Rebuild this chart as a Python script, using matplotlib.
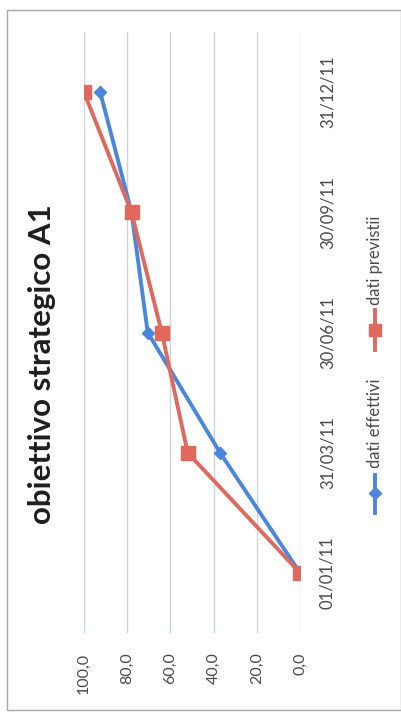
import matplotlib
matplotlib.use("Agg")
import matplotlib.pyplot as plt
from matplotlib.lines import Line2D
from matplotlib.patches import Rectangle
import numpy as np

plt.rcParams["font.family"] = ["Lato", "DejaVu Sans"]

dates = ["01/01/11", "31/03/11", "30/06/11", "30/09/11", "31/12/11"]
effettivi = [0.0, 37.0, 70.5, 78.0, 92.5]
previsti = [0.0, 52.0, 64.0, 78.0, 100.0]
value_ticks = [0, 20, 40, 60, 80, 100]

BLUE = "#4a86dc"
RED = "#e0695e"
W, H = 402, 713

fig = plt.figure(figsize=(W / 100, H / 100), dpi=100)
fig.patch.set_facecolor("white")

# outer chart border
fig.add_artist(Rectangle((7 / W, 1 - 710 / H), 394 / W, 700 / H,
                         transform=fig.transFigure, fill=False,
                         edgecolor="#a8a8a8", linewidth=1.0))

# whole chart is turned 90 degrees: values run right->left, dates bottom->top
ax = fig.add_axes([84 / W, 1 - 633 / H, 216 / W, 601 / H])
pos = np.arange(len(dates))

ax.plot(effettivi, pos, color=BLUE, linewidth=2.8, marker="D",
        markersize=6.5, zorder=3)
ax.plot(previsti, pos, color=RED, linewidth=2.8, marker="s",
        markersize=10, zorder=4)

ax.set_xlim(100, 0)
ax.set_ylim(-0.5, len(dates) - 0.5)
ax.set_xticks(value_ticks)
ax.set_xticklabels([f"{v:.1f}".replace(".", ",") for v in value_ticks])
ax.set_yticks(pos)
ax.set_yticklabels(dates)
ax.tick_params(axis="x", length=0, pad=14, labelsize=11.5, labelcolor="#4a4a4a",
               labelrotation=90)
ax.tick_params(axis="y", length=0, pad=14, labelsize=12, labelcolor="#4a4a4a",
               labelrotation=90, left=False, labelleft=False, labelright=True)
for lab in ax.get_yticklabels():
    lab.set_va("center")
ax.grid(axis="x", color="#cdd3de", linewidth=1.0)
for s in ax.spines.values():
    s.set_visible(False)

fig.text(42 / W, 1 - 364 / H, "obiettivo strategico A1", rotation=90,
         ha="center", va="center", fontsize=22.5, fontweight="bold",
         color="#1e1e1e")

# legend, drawn by hand because it is rotated as well
for color, marker, msize, y0, y1, ym, ytxt, label in [
    (BLUE, "D", 6, 513, 475, 493, 468, "dati effettivi"),
    (RED, "s", 9, 350, 310, 330, 305, "dati previstii"),
]:
    fig.add_artist(Line2D([375 / W, 375 / W], [1 - y0 / H, 1 - y1 / H],
                          transform=fig.transFigure, color=color,
                          linewidth=2.8))
    fig.add_artist(Line2D([375 / W], [1 - ym / H], transform=fig.transFigure,
                          color=color, marker=marker, markersize=msize,
                          linestyle="none"))
    fig.text(375 / W, 1 - ytxt / H, label, rotation=90, ha="center",
             va="bottom", fontsize=12, color="#4a4a4a")

fig.savefig("out.png", dpi=100)
